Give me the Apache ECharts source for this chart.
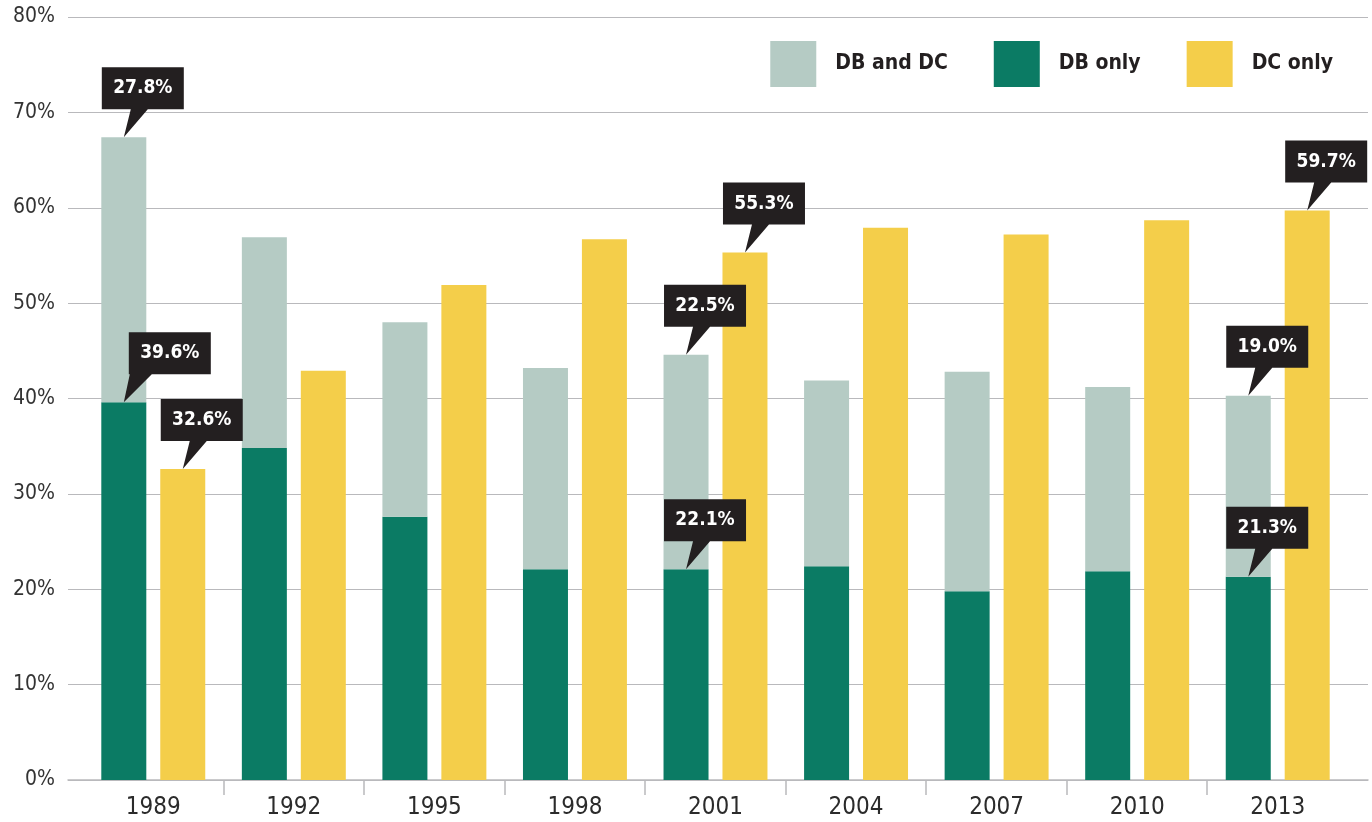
<!DOCTYPE html>
<html><head><meta charset="utf-8">
<script src="https://cdn.jsdelivr.net/npm/echarts@6/dist/echarts.min.js"></script>
<style>html,body{margin:0;padding:0;background:#fff}#c{width:1372px;height:822px}</style>
</head><body><div id="c"></div>
<script>
// ---- data ----
const years   = ['1989','1992','1995','1998','2001','2004','2007','2010','2013'];
const dbOnly  = [39.6, 34.8, 27.6, 22.1, 22.1, 22.4, 19.8, 21.9, 21.3];
const dbAndDc = [27.8, 22.1, 20.4, 21.1, 22.5, 19.5, 23.0, 19.3, 19.0];
const dcOnly  = [32.6, 42.9, 51.9, 56.7, 55.3, 57.9, 57.2, 58.7, 59.7];
const seriesNames = ['DB and DC', 'DB only', 'DC only'];
const calloutYears = ['1989', '2001', '2013'];
const yMax = 80, yStep = 10;

const FONT = '"DejaVu Sans Condensed", "DejaVu Sans", sans-serif';
const C_DBDC = '#b5cbc4', C_DB = '#0b7b64', C_DC = '#f4ce4a', C_BOX = '#231f20';

const CALLOUT = 'path://M0 0L82 0L82 42L46 42L22 70L29 42L0 42Z';
const CALLOUT_WIDE = 'path://M5 0L87 0L87 42L28 42L0 70L6 42L5 42Z';

function callout(year, yVal, shown, wide) {
  return wide ? {
    coord: [year, yVal], value: shown, symbol: CALLOUT_WIDE,
    symbolSize: [87, 70], symbolOffset: [43.5, -35], label: { offset: [2.5, -14] }
  } : {
    coord: [year, yVal], value: shown, symbol: CALLOUT,
    symbolSize: [82, 70], symbolOffset: [19, -35], label: { offset: [0, -14] }
  };
}
function markPointOf(items) {
  return {
    silent: true,
    itemStyle: { color: C_BOX },
    label: { show: true, position: 'inside', color: '#fff', fontFamily: FONT, fontWeight: 'bold',
             fontSize: 19, formatter: p => Number(p.value).toFixed(1) + '%' },
    data: items
  };
}
const dbItems = calloutYears.map(y => { const i = years.indexOf(y); return callout(y, dbOnly[i], dbOnly[i], i === 0); });
const dbdcItems = calloutYears.map(y => { const i = years.indexOf(y); return callout(y, +(dbOnly[i] + dbAndDc[i]).toFixed(2), dbAndDc[i], false); });
const dcItems = calloutYears.map(y => { const i = years.indexOf(y); return callout(y, dcOnly[i], dcOnly[i], false); });

const chart = echarts.init(document.getElementById('c'), null, { renderer: 'canvas' });
chart.setOption({
  animation: false,
  backgroundColor: '#fff',
  grid: [
    { left: 83, right: 24, top: 17, bottom: 42 },
    { left: 68, right: 4, top: 17, bottom: 42 }
  ],
  legend: {
    data: seriesNames, selectedMode: false, icon: 'rect',
    itemWidth: 46, itemHeight: 46, itemGap: 46, right: 34, top: 36,
    textStyle: { fontFamily: FONT, fontWeight: 'bold', fontSize: 21, color: C_BOX, padding: [0, 0, 0, 14] }
  },
  xAxis: [
    { type: 'category', gridIndex: 0, data: years,
      axisLine: { show: false }, axisTick: { show: false },
      axisLabel: { fontFamily: FONT, fontSize: 24, color: '#2b2b2b', margin: 16 } },
    { type: 'value', gridIndex: 1, min: -15 / 140.5, max: 1285 / 140.5,
      axisLine: { show: true, lineStyle: { color: '#b9b9bc', width: 1.5 } },
      axisTick: { show: true, length: 15, lineStyle: { color: '#b9b9bc', width: 1.5 },
                  customValues: [1, 2, 3, 4, 5, 6, 7, 8] },
      axisLabel: { show: false }, splitLine: { show: false } }
  ],
  yAxis: [
    { type: 'value', gridIndex: 0, min: 0, max: yMax, interval: yStep, show: false },
    { type: 'value', gridIndex: 1, min: 0, max: yMax, interval: yStep,
      axisLine: { show: false }, axisTick: { show: false },
      axisLabel: { formatter: '{value}%', fontFamily: FONT, fontSize: 21, color: '#333', margin: 13 },
      splitLine: { lineStyle: { color: '#b9b9bc', width: 1.2 } } }
  ],
  series: [
    { name: 'DB only', type: 'bar', stack: 'db', xAxisIndex: 0, yAxisIndex: 0,
      barWidth: 45, barGap: '31%', itemStyle: { color: C_DB }, data: dbOnly, markPoint: markPointOf(dbItems) },
    { name: 'DB and DC', type: 'bar', stack: 'db', xAxisIndex: 0, yAxisIndex: 0,
      barWidth: 45, barGap: '31%', itemStyle: { color: C_DBDC }, data: dbAndDc, markPoint: markPointOf(dbdcItems) },
    { name: 'DC only', type: 'bar', xAxisIndex: 0, yAxisIndex: 0,
      barWidth: 45, barGap: '31%', itemStyle: { color: C_DC }, data: dcOnly, markPoint: markPointOf(dcItems) }
  ]
});
</script></body></html>
